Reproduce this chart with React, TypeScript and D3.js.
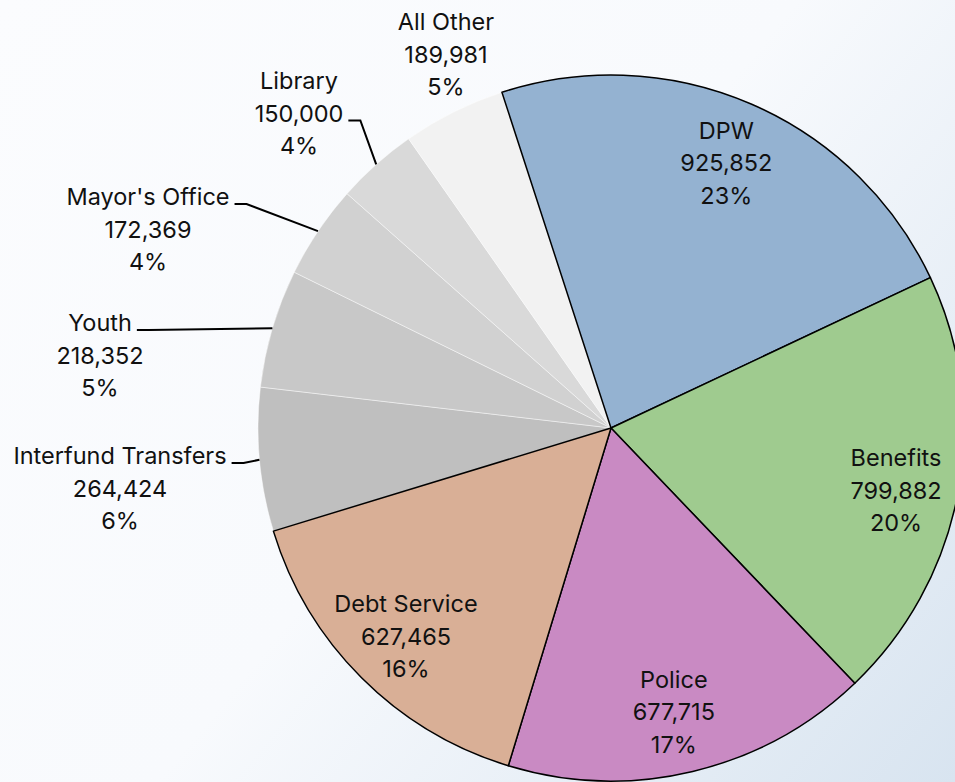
import React, { useMemo } from "react";
import * as d3 from "d3";

const categories = ["DPW", "Benefits", "Police", "Debt Service", "Interfund Transfers", "Youth", "Mayor's Office", "Library", "All Other"];
const values = [925852, 799882, 677715, 627465, 264424, 218352, 172369, 150000, 189981];
const percentLabels = ["23%", "20%", "17%", "16%", "6%", "5%", "4%", "4%", "5%"];
const colors = ["#94b2d1", "#9fcb8f", "#c98ac3", "#d9af96", "#bfbfbf", "#c8c8c8", "#d1d1d1", "#d9d9d9", "#f2f2f2"];
const outlined = [true, true, true, true, false, false, false, false, false];

// small nudges for inside labels (relative to arc centroid)
const insideNudge: Record<string, [number, number]> = {
  DPW: [-1, 4],
  Benefits: [-3, 9],
  Police: [-5, -1],
  "Debt Service": [2, 1],
};

// outside label layout: first-line center offset from pie center, and which line the leader attaches to
const outsideLayout: Record<string, { dx: number; dy: number; leaderLine: number | null }> = {
  "Interfund Transfers": { dx: -491, dy: 28, leaderLine: 0 },
  Youth: { dx: -511, dy: -105, leaderLine: 0 },
  "Mayor's Office": { dx: -463, dy: -231, leaderLine: 0 },
  Library: { dx: -312, dy: -347, leaderLine: 1 },
  "All Other": { dx: -165, dy: -406, leaderLine: null },
};

const W = 955;
const H = 782;
const CX = 611;
const CY = 428;
const R = 353;
const FONT = "Inter, sans-serif";
const FS = 23.5;
const LH = 32.5;

const fmt = d3.format(",");

function measure(text: string) {
  const c = document.createElement("canvas").getContext("2d")!;
  c.font = `${FS}px Inter`;
  return c.measureText(text).width;
}

export default function App() {
  const pie = d3
    .pie<number>()
    .sort(null)
    .startAngle((-18 * Math.PI) / 180)
    .endAngle((342 * Math.PI) / 180)
    .value((d) => d);
  const arcs = pie(values);
  const arc = d3.arc<d3.PieArcDatum<number>>().innerRadius(0).outerRadius(R);
  const labelArc = d3.arc<d3.PieArcDatum<number>>().innerRadius(R * 0.83).outerRadius(R * 0.83);

  const order = useMemo(() => {
    const idx = arcs.map((_, i) => i);
    return [...idx.filter((i) => !outlined[i]), ...idx.filter((i) => outlined[i])];
  }, []);

  return (
    <svg width={W} height={H} style={{ position: "fixed", left: 0, top: 0 }} fontFamily={FONT}>
      <defs>
        <linearGradient id="bg" x1="0" y1="0" x2={W} y2={H} gradientUnits="userSpaceOnUse">
          <stop offset="0" stopColor="#fbfcfe" />
          <stop offset="0.5" stopColor="#f8fafd" />
          <stop offset="1" stopColor="#d8e4f0" />
        </linearGradient>
      </defs>
      <rect width={W} height={H} fill="url(#bg)" />
      <g transform={`translate(${CX},${CY})`}>
        {order.map((i) => (
          <path
            key={categories[i]}
            d={arc(arcs[i]) || ""}
            fill={colors[i]}
            stroke={outlined[i] ? "#000" : "#ffffff"}
            strokeOpacity={outlined[i] ? 1 : 0.6}
            strokeWidth={outlined[i] ? 1.5 : 0.75}
            strokeLinejoin="round"
          />
        ))}
        {arcs.map((a, i) => {
          const name = categories[i];
          const lines = [name, fmt(values[i]), percentLabels[i]];
          const lay = outsideLayout[name];
          if (!lay) {
            const [cx0, cy0] = labelArc.centroid(a);
            const [nx, ny] = insideNudge[name] || [0, 0];
            const x = cx0 + nx;
            const y = cy0 + ny;
            return (
              <text key={name} textAnchor="middle" fontSize={FS} fill="#111">
                {lines.map((t, k) => (
                  <tspan key={k} x={x} y={y + (k - 1) * LH} dy="0.35em">
                    {t}
                  </tspan>
                ))}
              </text>
            );
          }
          let leader = null;
          if (lay.leaderLine !== null) {
            const mid = (a.startAngle + a.endAngle) / 2;
            const ex = Math.sin(mid) * R;
            const ey = -Math.cos(mid) * R;
            const w = measure(lines[lay.leaderLine]);
            const sx = lay.dx + w / 2 + 5;
            const sy = lay.dy + lay.leaderLine * LH + 7;
            leader = (
              <path
                d={`M${sx},${sy}H${sx + 12}L${ex},${ey}`}
                fill="none"
                stroke="#000"
                strokeWidth={2}
              />
            );
          }
          return (
            <g key={name}>
              {leader}
              <text textAnchor="middle" fontSize={FS} fill="#111">
                {lines.map((t, k) => (
                  <tspan key={k} x={lay.dx} y={lay.dy + k * LH} dy="0.35em">
                    {t}
                  </tspan>
                ))}
              </text>
            </g>
          );
        })}
      </g>
    </svg>
  );
}
